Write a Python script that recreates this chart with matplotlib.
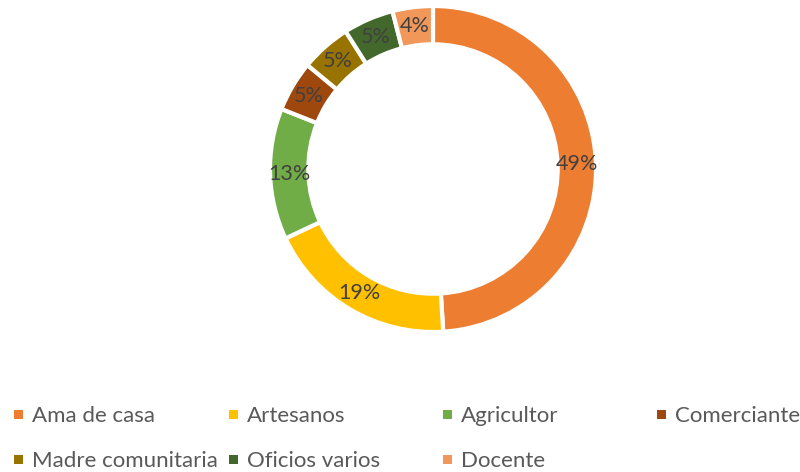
import matplotlib.pyplot as plt
from matplotlib.patches import Rectangle

categories = ["Ama de casa", "Artesanos", "Agricultor", "Comerciante",
              "Madre comunitaria", "Oficios varios", "Docente"]
shares = [49, 19, 13, 5, 5, 5, 4]
colors = ["#ED7D31", "#FFC000", "#70AD47", "#9E480E",
          "#997300", "#43682B", "#F1975A"]

plt.rcParams["font.family"] = ["Lato", "DejaVu Sans"]

W, H = 800, 472
fig = plt.figure(figsize=(W / 100, H / 100), dpi=100)

# donut: centre (433, 169) px, outer radius 163 px
cx, cy, r = 433, 169, 163
ax = fig.add_axes([(cx - r) / W, 1 - (cy + r) / H, 2 * r / W, 2 * r / H])
ring = 0.235
wedges, texts, autotexts = ax.pie(
    shares,
    colors=colors,
    startangle=90,
    counterclock=False,
    radius=1,
    autopct="%1.0f%%",
    pctdistance=1 - ring / 2,
    wedgeprops=dict(width=ring, edgecolor="white", linewidth=3),
    textprops=dict(fontsize=15.5, color="#404040"),
)
ax.set_xlim(-1, 1)
ax.set_ylim(-1, 1)
ax.set_aspect("equal")

# legend, laid out like the original (4 columns, 2 rows)
col_x = [18, 233, 447, 661]
row_y = [414, 459]
sq = 9
for i, (name, col) in enumerate(zip(categories, colors)):
    mx = col_x[i % 4]
    my = row_y[i // 4]
    fig.patches.append(Rectangle(((mx - sq / 2) / W, 1 - (my + sq / 2) / H),
                                 sq / W, sq / H, transform=fig.transFigure,
                                 facecolor=col, edgecolor="none"))
    fig.text((mx + 14) / W, 1 - (my + 8) / H, name, fontsize=16,
             color="#595959", ha="left", va="baseline")

fig.savefig("out.png", dpi=100)
